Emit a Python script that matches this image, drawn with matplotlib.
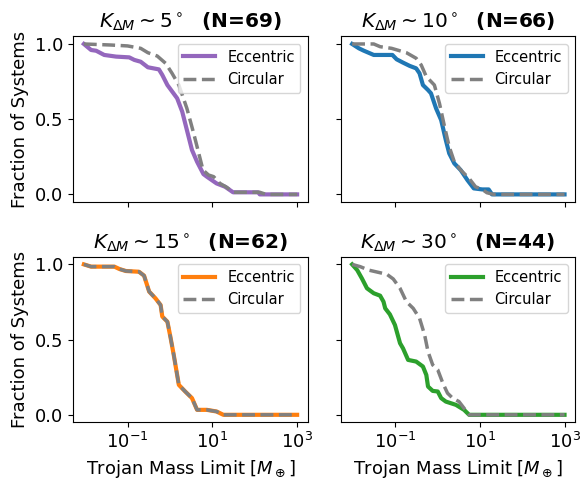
import numpy as np
import matplotlib
matplotlib.use("Agg")
import matplotlib.pyplot as plt
from matplotlib.ticker import FixedLocator, NullLocator

# one entry per K_dM bin
k_values = [5, 10, 15, 30]
n_systems = [69, 66, 62, 44]
ecc_colors = ["tab:purple", "tab:blue", "tab:orange", "tab:green"]

# log10 of the Trojan mass limit [M_earth] and surviving fraction, eccentric runs
ecc_logm = [
    [-2.03, -1.86, -1.74, -1.55, -1.27, -0.96, -0.84, -0.69, -0.52, -0.26, -0.18, -0.06,
     0.17, 0.29, 0.40, 0.52, 0.64, 0.79, 0.87, 1.10, 1.30, 1.49, 2.08, 2.12, 3.0],
    [-2.01, -1.85, -1.74, -1.50, -1.06, -0.96, -0.81, -0.65, -0.50, -0.42, -0.34, -0.22,
     -0.15, -0.03, 0.09, 0.20, 0.28, 0.40, 0.55, 0.71, 0.86, 1.06, 1.21, 1.29, 3.0],
    [-2.03, -1.86, -1.31, -1.19, -1.04, -0.73, -0.61, -0.49, -0.34, -0.22, -0.18, -0.06,
     0.01, 0.09, 0.21, 0.36, 0.52, 0.64, 0.87, 1.10, 1.26, 3.0],
    [-2.01, -1.89, -1.78, -1.66, -1.50, -1.35, -1.27, -1.23, -1.12, -1.00, -0.88, -0.81,
     -0.69, -0.50, -0.34, -0.26, -0.22, -0.11, 0.01, 0.09, 0.20, 0.44, 0.63, 0.75, 3.0],
]
ecc_frac = [
    [1.0, 0.96, 0.955, 0.927, 0.916, 0.911, 0.894, 0.882, 0.845, 0.831, 0.794, 0.727,
     0.639, 0.55, 0.428, 0.295, 0.217, 0.135, 0.118, 0.073, 0.051, 0.014, 0.014, 0.0, 0.0],
    [1.0, 0.971, 0.956, 0.927, 0.927, 0.898, 0.876, 0.854, 0.838, 0.805, 0.727, 0.694,
     0.672, 0.572, 0.494, 0.361, 0.273, 0.206, 0.162, 0.095, 0.04, 0.033, 0.033, 0.0, 0.0],
    [1.0, 0.985, 0.985, 0.969, 0.956, 0.951, 0.925, 0.819, 0.774, 0.730, 0.653, 0.619,
     0.52, 0.398, 0.199, 0.155, 0.111, 0.033, 0.033, 0.022, 0.0, 0.0],
    [1.0, 0.962, 0.907, 0.841, 0.808, 0.792, 0.752, 0.708, 0.668, 0.597, 0.476, 0.442,
     0.365, 0.354, 0.321, 0.265, 0.188, 0.159, 0.155, 0.111, 0.088, 0.066, 0.033, 0.0, 0.0],
]

# same for circular runs
circ_logm = [
    [-2.03, -1.39, -1.00, -0.69, -0.52, -0.30, -0.10, 0.05, 0.21, 0.40, 0.56, 0.68,
     0.78, 0.91, 1.03, 1.18, 1.34, 1.49, 2.12, 2.27, 3.0],
    [-2.01, -1.50, -1.35, -1.08, -0.73, -0.50, -0.38, -0.26, -0.07, 0.05, 0.17, 0.28,
     0.40, 0.55, 0.75, 0.90, 1.06, 1.17, 1.33, 3.0],
    [-2.03, -1.86, -1.31, -1.19, -1.04, -0.73, -0.61, -0.49, -0.34, -0.22, -0.18, -0.06,
     0.01, 0.09, 0.21, 0.36, 0.52, 0.64, 0.87, 1.10, 1.26, 3.0],
    [-2.01, -1.82, -1.62, -1.39, -1.19, -1.04, -0.88, -0.73, -0.57, -0.42, -0.30, -0.22,
     -0.11, 0.01, 0.13, 0.24, 0.36, 0.51, 0.63, 0.75, 3.0],
]
circ_frac = [
    [1.0, 0.993, 0.987, 0.971, 0.942, 0.92, 0.871, 0.805, 0.727, 0.572, 0.406, 0.273,
     0.162, 0.129, 0.118, 0.073, 0.047, 0.014, 0.014, 0.0, 0.0],
    [1.0, 1.0, 0.982, 0.971, 0.942, 0.905, 0.86, 0.783, 0.727, 0.605, 0.45, 0.317,
     0.217, 0.162, 0.106, 0.051, 0.033, 0.011, 0.0, 0.0],
    [1.0, 0.985, 0.985, 0.969, 0.956, 0.951, 0.925, 0.819, 0.774, 0.730, 0.653, 0.619,
     0.52, 0.398, 0.199, 0.155, 0.111, 0.033, 0.033, 0.022, 0.0, 0.0],
    [1.0, 0.985, 0.962, 0.947, 0.934, 0.903, 0.841, 0.752, 0.708, 0.642, 0.531, 0.420,
     0.332, 0.299, 0.210, 0.144, 0.111, 0.088, 0.044, 0.0, 0.0],
]

fig, axes = plt.subplots(2, 2, figsize=(5.81, 4.86), dpi=100, sharex=True, sharey=True)
plt.subplots_adjust(left=0.126, right=0.99, top=0.925, bottom=0.131, wspace=0.14, hspace=0.332)

for i, ax in enumerate(axes.flat):
    ax.plot(10 ** np.array(ecc_logm[i]), ecc_frac[i], color=ecc_colors[i], lw=3, label="Eccentric")
    ax.plot(10 ** np.array(circ_logm[i]), circ_frac[i], color="grey", lw=2.5, ls="--", label="Circular")
    ax.set_xscale("log")
    ax.set_title(r"$K_{\Delta M} \sim %d^\circ$  (N=%d)" % (k_values[i], n_systems[i]),
                 fontsize=14.5, fontweight="bold")
    ax.legend(loc="upper right", fontsize=10.5, handlelength=2.2)
    ax.tick_params(labelsize=13)

axes[0, 0].xaxis.set_major_locator(FixedLocator([1e-1, 1e1, 1e3]))
axes[0, 0].xaxis.set_minor_locator(NullLocator())
axes[0, 0].set_yticks([0.0, 0.5, 1.0])

for ax in axes[:, 0]:
    ax.set_ylabel("Fraction of Systems", fontsize=13)
for ax in axes[1, :]:
    ax.set_xlabel(r"Trojan Mass Limit [$M_\oplus$]", fontsize=13)

plt.savefig("out.png", dpi=100)
